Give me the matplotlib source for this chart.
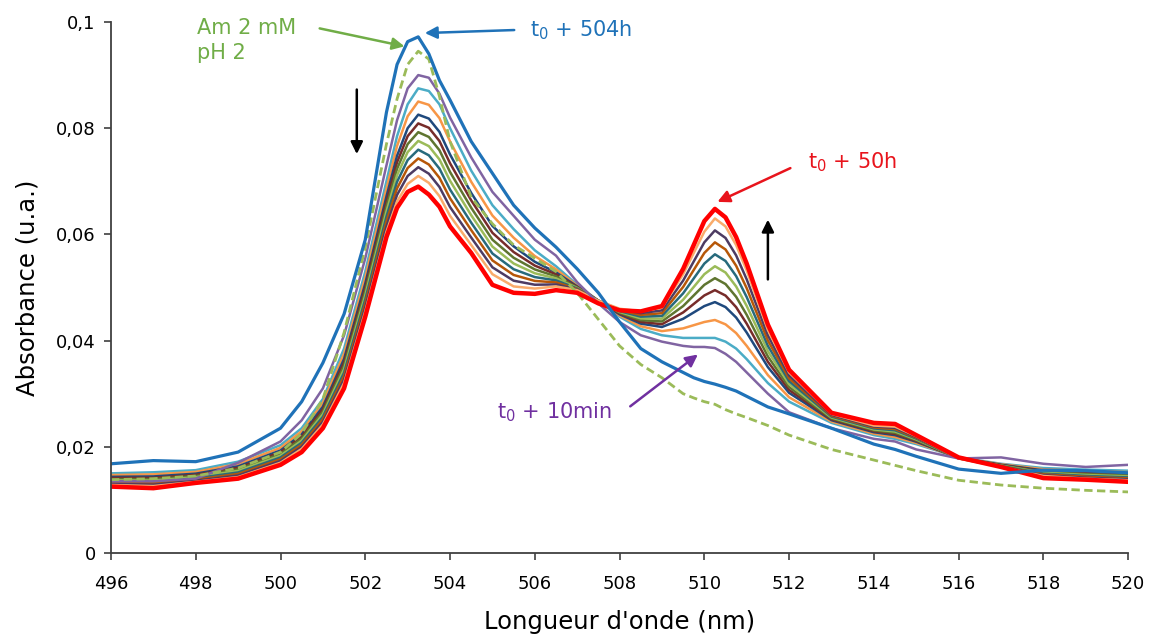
import matplotlib
matplotlib.use('Agg')
import matplotlib.pyplot as plt

plt.rcParams['font.family'] = ['DejaVu Sans']
plt.rcParams['mathtext.default'] = 'regular'

# wavelength grid (nm), shared by every spectrum
wl = [496, 497, 498, 499, 500, 500.5, 501, 501.5, 502, 502.5, 502.75, 503, 503.25,
      503.5, 503.75, 504, 504.5, 505, 505.5, 506, 506.5, 507, 507.5, 508, 508.5,
      509, 509.5, 509.75, 510, 510.25, 510.5, 510.75, 511, 511.5, 512, 513, 514,
      514.5, 515, 516, 517, 518, 519, 520]

# highlighted spectra
t10min = [0.0135, 0.0135, 0.0140, 0.0170, 0.0210, 0.0250, 0.0310, 0.0410, 0.0555, 0.0730,
          0.0815, 0.0875, 0.0900, 0.0895, 0.0865, 0.0820, 0.0745, 0.0680, 0.0635, 0.0590,
          0.0560, 0.0510, 0.0470, 0.0435, 0.0410, 0.0398, 0.0390, 0.0388, 0.0388, 0.0386,
          0.0375, 0.0360, 0.0340, 0.0300, 0.0265, 0.0235, 0.0215, 0.0210, 0.0195, 0.0178,
          0.0180, 0.0168, 0.0162, 0.0166]
t50h = [0.0125, 0.0122, 0.0132, 0.0140, 0.0166, 0.0190, 0.0235, 0.0310, 0.0445, 0.0595,
        0.0650, 0.0680, 0.0690, 0.0675, 0.0652, 0.0615, 0.0565, 0.0505, 0.0490, 0.0488,
        0.0495, 0.0490, 0.0470, 0.0457, 0.0455, 0.0465, 0.0535, 0.0580, 0.0625, 0.0648,
        0.0632, 0.0595, 0.0545, 0.0430, 0.0345, 0.0264, 0.0245, 0.0243, 0.0222, 0.0180,
        0.0162, 0.0141, 0.0138, 0.0134]
t504h = [0.0168, 0.0174, 0.0172, 0.0190, 0.0235, 0.0285, 0.0358, 0.0450, 0.0590, 0.0830,
         0.0920, 0.0963, 0.0972, 0.0940, 0.0890, 0.0853, 0.0775, 0.0715, 0.0655, 0.0612,
         0.0576, 0.0535, 0.0490, 0.0435, 0.0385, 0.0360, 0.0340, 0.0330, 0.0323, 0.0318,
         0.0312, 0.0305, 0.0295, 0.0275, 0.0262, 0.0235, 0.0205, 0.0195, 0.0182, 0.0158,
         0.0150, 0.0156, 0.0155, 0.0151]
am_ph2 = [0.0138, 0.0140, 0.0145, 0.0160, 0.0190, 0.0225, 0.0290, 0.0415, 0.0575, 0.0770,
          0.0855, 0.0920, 0.0945, 0.0930, 0.0860, 0.0775, 0.0670, 0.0620, 0.0580, 0.0555,
          0.0530, 0.0490, 0.0440, 0.0390, 0.0355, 0.0330, 0.0300, 0.0292, 0.0285, 0.0280,
          0.0270, 0.0262, 0.0255, 0.0240, 0.0222, 0.0195, 0.0175, 0.0165, 0.0155, 0.0137,
          0.0128, 0.0122, 0.0118, 0.0115]

# intermediate spectra (time order, 10 min -> 50 h)
mid_spectra = [
    [0.0150, 0.0152, 0.0156, 0.0172, 0.0203, 0.0235, 0.0290, 0.0385, 0.0530, 0.0700,
     0.0785, 0.0845, 0.0875, 0.0870, 0.0845, 0.0800, 0.0720, 0.0655, 0.0610, 0.0570,
     0.0540, 0.0505, 0.0475, 0.0445, 0.0422, 0.0410, 0.0405, 0.0405, 0.0405, 0.0405,
     0.0398, 0.0385, 0.0365, 0.0320, 0.0285, 0.0245, 0.0222, 0.0215, 0.0205, 0.0180,
     0.0168, 0.0160, 0.0157, 0.0155],
    [0.01467, 0.01481, 0.01527, 0.01676, 0.01980, 0.02292, 0.02828, 0.03752, 0.05188, 0.06858,
     0.07666, 0.08225, 0.08502, 0.08440, 0.08190, 0.07752, 0.06990, 0.06355, 0.05938, 0.05592,
     0.05343, 0.05035, 0.04750, 0.04472, 0.04270, 0.04178, 0.04230, 0.04290, 0.04350, 0.04388,
     0.04306, 0.04142, 0.03900, 0.03350, 0.02932, 0.02476, 0.02247, 0.02184, 0.02072, 0.01797,
     0.01671, 0.01578, 0.01544, 0.01523],
    [0.01434, 0.01442, 0.01494, 0.01633, 0.01931, 0.02233, 0.02756, 0.03655, 0.05075, 0.06715,
     0.07481, 0.08000, 0.08255, 0.08181, 0.07931, 0.07505, 0.06780, 0.06160, 0.05776, 0.05484,
     0.05286, 0.05020, 0.04750, 0.04495, 0.04319, 0.04256, 0.04410, 0.04530, 0.04650, 0.04725,
     0.04631, 0.04435, 0.04151, 0.03500, 0.03015, 0.02501, 0.02274, 0.02219, 0.02095, 0.01794,
     0.01662, 0.01555, 0.01519, 0.01496],
    [0.01412, 0.01416, 0.01472, 0.01604, 0.01898, 0.02194, 0.02708, 0.03590, 0.05000, 0.06620,
     0.07358, 0.07850, 0.08090, 0.08008, 0.07758, 0.07340, 0.06640, 0.06030, 0.05668, 0.05412,
     0.05248, 0.05010, 0.04750, 0.04510, 0.04352, 0.04308, 0.04530, 0.04690, 0.04850, 0.04950,
     0.04848, 0.04630, 0.04318, 0.03600, 0.03070, 0.02518, 0.02292, 0.02242, 0.02110, 0.01792,
     0.01656, 0.01540, 0.01502, 0.01478],
    [0.01390, 0.01390, 0.01450, 0.01575, 0.01865, 0.02155, 0.02660, 0.03525, 0.04925, 0.06525,
     0.07235, 0.07700, 0.07925, 0.07835, 0.07585, 0.07175, 0.06500, 0.05900, 0.05560, 0.05340,
     0.05210, 0.05000, 0.04750, 0.04525, 0.04385, 0.04360, 0.04650, 0.04850, 0.05050, 0.05175,
     0.05065, 0.04825, 0.04485, 0.03700, 0.03125, 0.02535, 0.02310, 0.02265, 0.02125, 0.01790,
     0.01650, 0.01525, 0.01485, 0.01460],
    [0.01368, 0.01364, 0.01428, 0.01546, 0.01832, 0.02116, 0.02612, 0.03460, 0.04850, 0.06430,
     0.07112, 0.07550, 0.07760, 0.07662, 0.07412, 0.07010, 0.06360, 0.05770, 0.05452, 0.05268,
     0.05172, 0.04990, 0.04750, 0.04540, 0.04418, 0.04412, 0.04770, 0.05010, 0.05250, 0.05400,
     0.05282, 0.05020, 0.04652, 0.03800, 0.03180, 0.02552, 0.02328, 0.02288, 0.02140, 0.01788,
     0.01644, 0.01510, 0.01468, 0.01442],
    [0.01346, 0.01338, 0.01406, 0.01517, 0.01799, 0.02077, 0.02564, 0.03395, 0.04775, 0.06335,
     0.06989, 0.07400, 0.07595, 0.07489, 0.07239, 0.06845, 0.06220, 0.05640, 0.05344, 0.05196,
     0.05134, 0.04980, 0.04750, 0.04555, 0.04451, 0.04464, 0.04890, 0.05170, 0.05450, 0.05625,
     0.05499, 0.05215, 0.04819, 0.03900, 0.03235, 0.02569, 0.02346, 0.02311, 0.02155, 0.01786,
     0.01638, 0.01495, 0.01451, 0.01424],
    [0.01324, 0.01312, 0.01384, 0.01488, 0.01766, 0.02038, 0.02516, 0.03330, 0.04700, 0.06240,
     0.06866, 0.07250, 0.07430, 0.07316, 0.07066, 0.06680, 0.06080, 0.05510, 0.05236, 0.05124,
     0.05096, 0.04970, 0.04750, 0.04570, 0.04484, 0.04516, 0.05010, 0.05330, 0.05650, 0.05850,
     0.05716, 0.05410, 0.04986, 0.04000, 0.03290, 0.02586, 0.02364, 0.02334, 0.02170, 0.01784,
     0.01632, 0.01480, 0.01434, 0.01406],
    [0.01302, 0.01286, 0.01362, 0.01459, 0.01733, 0.01999, 0.02468, 0.03265, 0.04625, 0.06145,
     0.06743, 0.07100, 0.07265, 0.07143, 0.06893, 0.06515, 0.05940, 0.05380, 0.05128, 0.05052,
     0.05058, 0.04960, 0.04750, 0.04585, 0.04517, 0.04568, 0.05130, 0.05490, 0.05850, 0.06075,
     0.05933, 0.05605, 0.05153, 0.04100, 0.03345, 0.02603, 0.02382, 0.02357, 0.02185, 0.01782,
     0.01626, 0.01465, 0.01417, 0.01388],
    [0.0128, 0.0126, 0.0134, 0.0143, 0.0170, 0.0196, 0.0242, 0.0320, 0.0455, 0.0605,
     0.0662, 0.0695, 0.0710, 0.0697, 0.0672, 0.0635, 0.0580, 0.0525, 0.0502, 0.0498,
     0.0502, 0.0495, 0.0475, 0.0460, 0.0455, 0.0462, 0.0525, 0.0565, 0.0605, 0.0630,
     0.0615, 0.0580, 0.0532, 0.0420, 0.0340, 0.0262, 0.0240, 0.0238, 0.0220, 0.0178,
     0.0162, 0.0145, 0.0140, 0.0137],
]
mid_colors = ['#4BACC6', '#F79646', '#1F497D', '#772C2A', '#5F7530',
              '#9BBB59', '#276A7C', '#B65708', '#4D3B62', '#F9AB6B']

x_ticks = [496, 498, 500, 502, 504, 506, 508, 510, 512, 514, 516, 518, 520]
y_ticks = [0, 0.02, 0.04, 0.06, 0.08, 0.1]
y_labels = ['0', '0,02', '0,04', '0,06', '0,08', '0,1']

fig, ax = plt.subplots(figsize=(11.5, 6.39), dpi=100)
fig.subplots_adjust(left=0.0965, right=0.981, bottom=0.1346, top=0.9656)

for spec, col in zip(mid_spectra, mid_colors):
    ax.plot(wl, spec, color=col, lw=1.8, solid_joinstyle='round')

ax.plot(wl, t10min, color='#8064A2', lw=1.8, solid_joinstyle='round')
ax.plot(wl, am_ph2, color='#9BBB59', lw=2.0, ls=(0, (3, 1.6)))
ax.plot(wl, t50h, color='#FF0000', lw=3.2, solid_joinstyle='round')
ax.plot(wl, t504h, color='#1F72B8', lw=2.3, solid_joinstyle='round')

ax.set_xlim(496, 520)
ax.set_ylim(0, 0.1)
ax.set_xticks(x_ticks)
ax.set_yticks(y_ticks)
ax.set_yticklabels(y_labels)
ax.tick_params(axis='both', labelsize=13, length=5, width=1.2, color='#404040')
ax.tick_params(axis='x', pad=11)
ax.tick_params(axis='y', pad=6)
for side in ['top', 'right']:
    ax.spines[side].set_visible(False)
for side in ['left', 'bottom']:
    ax.spines[side].set_color('#404040')
    ax.spines[side].set_linewidth(1.3)

ax.set_xlabel("Longueur d'onde (nm)", fontsize=17.5, labelpad=12)
ax.set_ylabel('Absorbance (u.a.)', fontsize=17.5, labelpad=12)

# annotations
ax.text(498.03, 0.1007, 'Am 2 mM\npH 2', color='#70AD47', fontsize=15,
        va='top', ha='left', linespacing=1.3)
ax.annotate('', xy=(502.99, 0.0953), xytext=(500.86, 0.0989),
            arrowprops=dict(arrowstyle='-|>', color='#70AD47', lw=1.8, mutation_scale=18))

ax.text(505.89, 0.0985, 't$_0$ + 504h', color='#1F72B8', fontsize=15, va='center', ha='left')
ax.annotate('', xy=(503.34, 0.0979), xytext=(505.58, 0.0985),
            arrowprops=dict(arrowstyle='-|>', color='#1F72B8', lw=1.8, mutation_scale=18))

ax.text(512.45, 0.0736, 't$_0$ + 50h', color='#E8141C', fontsize=15, va='center', ha='left')
ax.annotate('', xy=(510.25, 0.0659), xytext=(512.09, 0.0727),
            arrowprops=dict(arrowstyle='-|>', color='#E8141C', lw=1.8, mutation_scale=18))

ax.text(505.11, 0.0266, 't$_0$ + 10min', color='#7030A0', fontsize=15, va='center', ha='left')
ax.annotate('', xy=(509.9, 0.0377), xytext=(508.2, 0.0273),
            arrowprops=dict(arrowstyle='-|>', color='#7030A0', lw=1.8, mutation_scale=18))

# trend arrows
ax.annotate('', xy=(501.8, 0.0746), xytext=(501.8, 0.0878),
            arrowprops=dict(arrowstyle='-|>', color='black', lw=1.8, mutation_scale=18))
ax.annotate('', xy=(511.5, 0.0633), xytext=(511.5, 0.0510),
            arrowprops=dict(arrowstyle='-|>', color='black', lw=1.8, mutation_scale=18))

fig.savefig('out.png', dpi=100)
